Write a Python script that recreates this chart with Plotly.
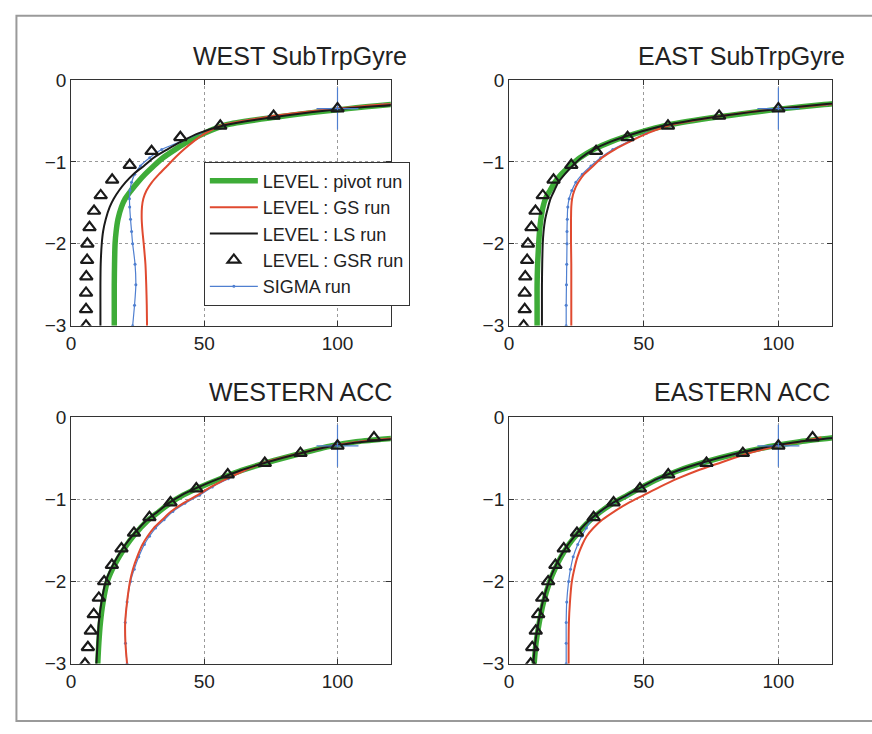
import plotly.graph_objects as go

# ---------------------------------------------------------------- data
# Depth (km) of the model levels used for the line profiles
DEPTH = [-0.25, -0.3, -0.35, -0.45, -0.55, -0.65, -0.75, -0.85, -0.95, -1.05, -1.15,
         -1.25, -1.35, -1.45, -1.55, -1.7, -1.85, -2.0, -2.25, -2.5, -2.75, -3.0]
# Depth (km) of the GSR run levels (triangles)
GSR_DEPTH = [-0.25, -0.35, -0.44, -0.56, -0.70, -0.87, -1.04, -1.22, -1.41, -1.60,
             -1.80, -2.0, -2.2, -2.4, -2.6, -2.8, -3.0]

PANEL_TITLES = ["WEST SubTrpGyre", "EAST SubTrpGyre", "WESTERN ACC", "EASTERN ACC"]

# WEST SubTrpGyre
ws_pivot = [138, 120, 104, 78, 58, 50, 44, 39, 34.5, 31, 27.8, 25, 22.5, 20.3, 18.9, 17.6, 16.9, 16.5, 16.3, 16.2, 16.2, 16.2]
ws_gs = [138, 117, 100, 74, 57, 50.5, 46, 42.3, 39, 36, 33, 30.3, 28.3, 27.1, 26.6, 26.5, 26.8, 27.25, 27.9, 28.2, 28.4, 28.5]
ws_ls = [140, 123, 103, 77, 58, 48, 41.5, 36, 31, 27.3, 23.4, 20.4, 18, 16, 14.5, 13, 12, 11.5, 11.1, 11, 11, 11]
ws_sigma = [136, 117, 100, 74, 57, 48.5, 41.3, 34, 29.5, 26, 23.9, 22.7, 22.1, 21.9, 22, 22.3, 22.7, 23.1, 24, 24.3, 23.8, 23.1]
ws_gsr = [None, 100, 76, 56, 41, 30.2, 22, 15.4, 11.1, 8.6, 6.9, 6.1, 6, 5.7, 5.6, 5.6, 5.6]

# EAST SubTrpGyre
es_pivot = [137, 117, 102, 78, 59, 47.5, 38.2, 31.3, 26.3, 22.6, 19.4, 17, 15.2, 13.5, 12.6, 11.8, 11.3, 11, 10.6, 10.4, 10.4, 10.4]
es_gs = [136, 118, 100, 77, 60, 51.5, 45, 39.2, 34.5, 31.2, 27.9, 25.7, 24.2, 23.4, 23.1, 23, 23, 23, 23.1, 23.1, 23.1, 23.1]
es_ls = [136, 116, 101, 77, 58.5, 47, 38, 31.3, 26.8, 23.5, 20.7, 18.3, 16.8, 15.4, 14.5, 13.4, 12.8, 12.5, 12.3, 12.2, 12.2, 12.2]
es_sigma = [136, 118, 100, 77, 60, 51, 44.5, 38.5, 34, 30.4, 27.2, 24.8, 23.3, 22.3, 21.8, 21.6, 21.5, 21.5, 21.4, 21.3, 21.2, 21.2]
es_gsr = [None, 100, 78, 59, 44, 32.3, 23.1, 16.5, 12.5, 9.8, 8.3, 7, 6.7, 6, 5.8, 5.8, 5.4]

# WESTERN ACC
wa_pivot = [124, 107, 98, 85.5, 74, 64, 56, 48.5, 42, 37, 33, 29, 26, 23.3, 21, 18, 15.5, 13.6, 12, 11, 10.4, 10]
wa_gs = [124, 108, 98, 85, 73, 65, 58.5, 52.5, 47.5, 42, 37.5, 34.2, 31, 28.7, 26.8, 24.8, 23.2, 22.1, 21, 20.3, 20.4, 21]
wa_ls = [128, 110, 98.5, 85, 73.5, 63.5, 55.5, 48, 41.5, 36.5, 32.5, 28.5, 25.5, 22.8, 20.4, 17.4, 14.9, 13, 11.4, 10.4, 9.9, 9.5]
wa_sigma = [124, 108, 98, 85, 73, 65, 59, 53, 48.2, 42.7, 38.2, 34.9, 31.7, 29.4, 27.5, 25.4, 23.7, 22.3, 21, 20.3, 20.4, 21]
wa_gsr = [113.7, 100, 86.1, 72.7, 58.8, 47, 37.3, 29.4, 23.6, 18.9, 15.3, 12.4, 10.4, 8.5, 7.4, 6.3, 5.2]

# EASTERN ACC
ea_pivot = [121, 108, 98.5, 84, 72.5, 63, 55.5, 49.5, 44, 38.5, 34, 30.3, 27.2, 24.6, 22.2, 19.3, 17, 15.1, 12.8, 11.2, 10, 9.3]
ea_gs = [116, 108, 100, 88, 79, 70, 62.5, 56, 50, 44, 39, 34.6, 31.3, 28.8, 27.2, 25.4, 24.2, 23.3, 22.6, 22.2, 22.1, 22.1]
ea_ls = [122, 107.7, 98.2, 83.7, 72.2, 62.7, 55.2, 49.2, 43.7, 38.2, 33.7, 30, 26.9, 24.3, 21.9, 19, 16.7, 14.8, 12.5, 10.9, 9.7, 9]
ea_sigma = [121, 108, 98.5, 84, 72.5, 63, 55.5, 49.5, 44, 38.5, 34, 30.5, 28.7, 27, 25.5, 23.8, 22.8, 22.1, 21.4, 21.2, 21.2, 21.2]
ea_gsr = [112.7, 100, 86.8, 73.3, 59.1, 48.6, 38.8, 31.4, 25.2, 20.3, 17.2, 14.5, 12.3, 10.8, 9.9, 8.6, 8]

# Reference marker of the SIGMA run at the upper level
SIGMA_MARK_X = [100]
SIGMA_MARK_Y = [-0.35]

X_TICKS = [0, 50, 100]
X_TICK_TEXT = ["0", "50", "100"]
Y_TICKS = [0, -1, -2, -3]
Y_TICK_TEXT = ["0", "\u22121", "\u22122", "\u22123"]

PANELS = [
    (ws_pivot, ws_gs, ws_ls, ws_gsr, ws_sigma),
    (es_pivot, es_gs, es_ls, es_gsr, es_sigma),
    (wa_pivot, wa_gs, wa_ls, wa_gsr, wa_sigma),
    (ea_pivot, ea_gs, ea_ls, ea_gsr, ea_sigma),
]

# ---------------------------------------------------------------- styling
W, H = 872, 734
FONT = "Liberation Sans, Arial, Helvetica, sans-serif"
GREEN, RED, BLACK, BLUE = "#3eac38", "#e04a30", "#1a1a1a", "#4f7fd0"

# panel boxes in pixels: (left, right, top, bottom)
BOXES = [(66.5, 388, 72, 325), (507, 832, 72, 325),
         (66.5, 388, 419, 673), (507, 832, 419, 673)]
TITLE_X = [297, 741, 297, 741]
TITLE_Y = [47, 47, 393, 393]

fig = go.Figure()

for i, (pivot, gs, ls, gsr, sigma) in enumerate(PANELS):
    n = "" if i == 0 else str(i + 1)
    xa, ya = "x" + n, "y" + n
    first = i == 0
    spline = dict(shape="spline", smoothing=0.8)
    fig.add_trace(go.Scatter(x=pivot, y=DEPTH, xaxis=xa, yaxis=ya, mode="lines",
                             name="LEVEL : pivot run", legendrank=1, showlegend=first,
                             line=dict(color=GREEN, width=5.5, **spline)))
    fig.add_trace(go.Scatter(x=sigma, y=DEPTH, xaxis=xa, yaxis=ya, mode="lines+markers",
                             name="SIGMA run", legendrank=5, showlegend=first,
                             line=dict(color=BLUE, width=1.2, **spline),
                             marker=dict(size=3, color=BLUE)))
    fig.add_trace(go.Scatter(x=gs, y=DEPTH, xaxis=xa, yaxis=ya, mode="lines",
                             name="LEVEL : GS run", legendrank=2, showlegend=first,
                             line=dict(color=RED, width=2, **spline)))
    fig.add_trace(go.Scatter(x=ls, y=DEPTH, xaxis=xa, yaxis=ya, mode="lines",
                             name="LEVEL : LS run", legendrank=3, showlegend=first,
                             line=dict(color=BLACK, width=2, **spline)))
    fig.add_trace(go.Scatter(x=SIGMA_MARK_X, y=SIGMA_MARK_Y, xaxis=xa, yaxis=ya,
                             mode="markers", showlegend=False, hoverinfo="skip",
                             marker=dict(symbol="cross-thin-open", size=30, color=BLUE,
                                         line=dict(color=BLUE, width=1.2))))
    fig.add_trace(go.Scatter(x=gsr, y=GSR_DEPTH, xaxis=xa, yaxis=ya, mode="markers",
                             name="LEVEL : GSR run", legendrank=4, showlegend=first,
                             marker=dict(symbol="triangle-up-open", size=11,
                                         color=BLACK, line=dict(color=BLACK, width=2.2))))

    left, right, top, bottom = BOXES[i]
    axis_common = dict(showline=True, linecolor="#333", linewidth=1, mirror="ticks",
                       ticks="inside", ticklen=5, tickcolor="#333", showgrid=True,
                       gridcolor="#9a9a9a", griddash="dot", gridwidth=1, zeroline=False,
                       tickfont=dict(family=FONT, size=19, color="#222"), fixedrange=True)
    fig.layout["xaxis" + n] = dict(domain=[left / W, right / W], anchor=ya, range=[0, 120],
                                   tickvals=X_TICKS, ticktext=X_TICK_TEXT, **axis_common)
    fig.layout["yaxis" + n] = dict(domain=[1 - bottom / H, 1 - top / H], anchor=xa, range=[-3, 0],
                                   tickvals=Y_TICKS, ticktext=Y_TICK_TEXT, **axis_common)
    fig.add_annotation(text=PANEL_TITLES[i], x=TITLE_X[i] / W, y=1 - TITLE_Y[i] / H,
                       xref="paper", yref="paper", xanchor="center", yanchor="middle",
                       showarrow=False, font=dict(family=FONT, size=25, color="#222"))

# outer frame of the figure
fig.add_shape(type="rect", xref="paper", yref="paper", x0=11.5 / W, x1=1.02,
              y0=1 - 732 / H, y1=1 - 6 / H, line=dict(color="#9a9a9a", width=2))

fig.update_layout(
    width=W, height=H, margin=dict(l=0, r=0, t=0, b=0),
    paper_bgcolor="white", plot_bgcolor="white",
    font=dict(family=FONT, color="#222"),
    legend=dict(x=200 / W, y=1 - 156 / H, xanchor="left", yanchor="top",
                bgcolor="white", bordercolor="#333", borderwidth=1,
                font=dict(family=FONT, size=18, color="#222"),
                itemwidth=48, tracegroupgap=0),
)

fig.write_html("out.html")
